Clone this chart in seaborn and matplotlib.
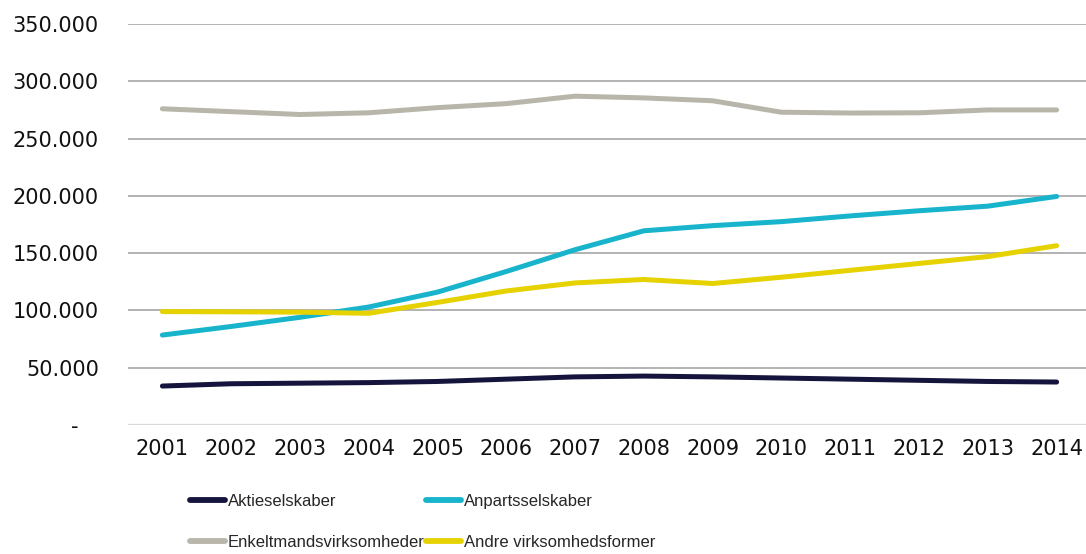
import matplotlib
matplotlib.use("Agg")
import matplotlib.pyplot as plt
import matplotlib.ticker as mticker
import seaborn as sns
import pandas as pd

years = list(range(2001, 2015))
aktieselskaber = [34000, 36000, 36500, 37000, 38000, 40000, 42000, 42700, 42000, 41000, 40000, 39000, 38000, 37500]
anpartsselskaber = [78500, 86000, 94000, 103000, 116000, 134000, 153000, 169500, 174000, 177500, 182500, 187000, 191000, 199500]
enkeltmands = [276000, 273500, 271000, 272500, 277000, 280500, 287000, 285500, 283000, 273000, 272300, 272500, 275000, 275000]
andre = [99000, 98800, 98500, 97500, 107000, 117000, 124000, 127000, 123500, 129000, 135000, 141000, 147000, 156500]

names = ["Aktieselskaber", "Anpartsselskaber", "Enkeltmandsvirksomheder", "Andre virksomhedsformer"]
colors = ["#15143c", "#17b4cc", "#b8b6aa", "#e6d200"]

df = pd.DataFrame({
    "År": years * 4,
    "Antal": aktieselskaber + anpartsselskaber + enkeltmands + andre,
    "Type": [n for n in names for _ in years],
})
df["pos"] = df["År"] - 2001

sns.set_theme(style="white")
plt.rcParams["font.family"] = ["DejaVu Sans"]

fig = plt.figure(figsize=(10.86, 5.54), dpi=100)
ax = fig.add_axes([128 / 1086, 1 - 425 / 554, 963 / 1086, (425 - 24) / 554])

sns.lineplot(data=df, x="pos", y="Antal", hue="Type", hue_order=names,
             palette=colors, linewidth=3.6, ax=ax, legend=False,
             solid_capstyle="round")

ax.set_xlim(-0.5, 13.5)
ax.set_ylim(0, 350000)
ax.set_xticks(range(len(years)))
ax.set_xticklabels([str(y) for y in years])
ax.yaxis.set_major_locator(mticker.MultipleLocator(50000))
ax.yaxis.set_major_formatter(mticker.FuncFormatter(
    lambda v, _: "-   " if v == 0 else f"{int(v):,}".replace(",", ".")))
ax.set_xlabel("")
ax.set_ylabel("")
for s in ax.spines.values():
    s.set_visible(False)
ax.grid(axis="y", color="#a6a6a6", linewidth=1.2)
ax.grid(axis="x", visible=False)
ax.axhline(0, color="#d9d9d9", linewidth=1.6, zorder=1)
ax.set_axisbelow(True)
ax.tick_params(axis="y", length=0, pad=21, labelsize=15, labelcolor="#111111")
ax.tick_params(axis="x", length=0, pad=10, labelsize=15, labelcolor="#111111")

# legend: 2 columns, row-wise order
handles = [plt.Line2D([], [], color=c, linewidth=4.2, solid_capstyle="round") for c in colors]
order = [0, 2, 1, 3]
fig.legend([handles[i] for i in order], [names[i] for i in order],
           loc="upper left", bbox_to_anchor=(190 / 1086, 1 - 494 / 554),
           ncol=2, frameon=False, borderpad=0, borderaxespad=0,
           handlelength=2.1, handletextpad=0.15, columnspacing=0.1,
           labelspacing=1.55, prop={"family": "Liberation Sans", "size": 12})

fig.savefig("out.png", dpi=100)
